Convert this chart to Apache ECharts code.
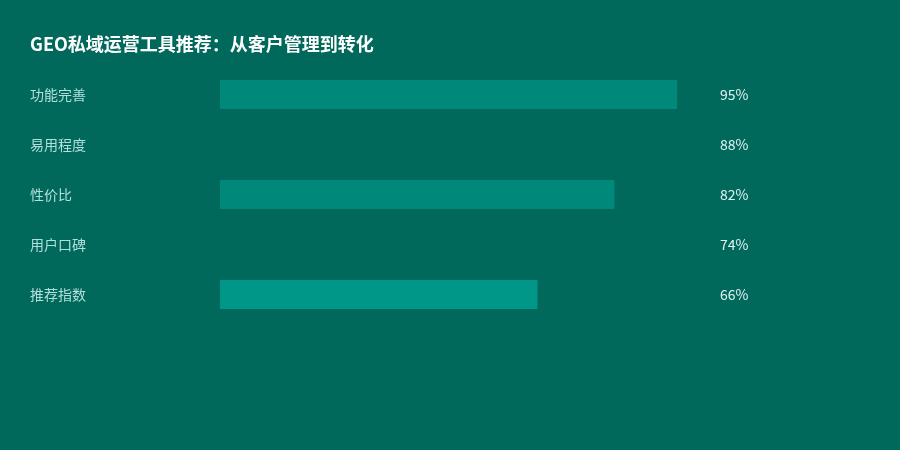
<!DOCTYPE html>
<html>
<head>
<meta charset="utf-8">
<script src="https://cdn.jsdelivr.net/npm/echarts@6/dist/echarts.min.js"></script>
<style>
html, body { margin: 0; padding: 0; background: #00695c; }
#chart { width: 900px; height: 450px; }
</style>
</head>
<body>
<div id="chart"></div>
<script>
const title = 'GEO私域运营工具推荐：从客户管理到转化';
const categories = ['功能完善', '易用程度', '性价比', '用户口碑', '推荐指数'];
const values = [95, 88, 82, 74, 66];
const barColors = ['#00897b', '#00695c', '#00897b', '#00695c', '#009688'];

const font = '"Noto Sans CJK SC", "Noto Sans", sans-serif';
const chart = echarts.init(document.getElementById('chart'));
chart.setOption({
    backgroundColor: '#00695c',
    animation: false,
    title: {
        text: title,
        left: 25,
        top: 30,
        textStyle: {color: '#ffffff', fontSize: 18, fontWeight: 'bold', fontFamily: font}
    },
    grid: {left: 220, right: 199, top: 69.5, height: 250},
    xAxis: {type: 'value', min: 0, max: 100, show: false},
    yAxis: [{
        type: 'category',
        data: categories,
        inverse: true,
        axisLine: {show: false},
        axisTick: {show: false},
        axisLabel: {color: '#b2dfdb', fontSize: 14, fontFamily: font, align: 'left', margin: 190}
    }, {
        type: 'category',
        position: 'right',
        data: values.map(v => v + '%'),
        inverse: true,
        axisLine: {show: false},
        axisTick: {show: false},
        axisLabel: {color: '#e0f2f1', fontSize: 14, fontFamily: font, align: 'left', margin: 19}
    }],
    series: [{
        type: 'bar',
        barWidth: 29,
        data: values.map((v, i) => ({value: v, itemStyle: {color: barColors[i]}}))
    }]
});
</script>
</body>
</html>
